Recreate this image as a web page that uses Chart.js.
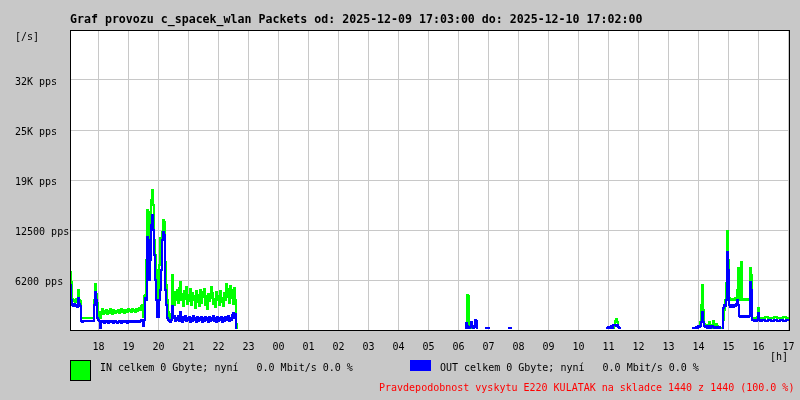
<!DOCTYPE html>
<html>
<head>
<meta charset="utf-8">
<script src="https://cdn.jsdelivr.net/npm/chart.js@4/dist/chart.umd.min.js"></script>
<style>
  html, body { margin: 0; padding: 0; background: #c8c8c8; }
  canvas { display: block; }
</style>
</head>
<body>
<canvas id="graf" width="800" height="400"></canvas>
<script>
// sample time, minutes since 2025-12-09 17:03
var sampleMin = [
    0,   2,   4,   6,   8,  10,  12,  14,  16,  18,
   20,  22,  24,  26,  28,  30,  32,  34,  36,  38,
   40,  42,  44,  46,  48,  50,  52,  54,  56,  58,
   60,  62,  64,  66,  68,  70,  72,  74,  76,  78,
   80,  82,  84,  86,  88,  90,  92,  94,  96,  98,
  100, 102, 104, 106, 108, 110, 112, 114, 116, 118,
  120, 122, 124, 126, 128, 130, 132, 134, 136, 138,
  140, 142, 144, 146, 148, 150, 152, 154, 156, 158,
  160, 162, 164, 166, 168, 170, 172, 174, 176, 178,
  180, 182, 184, 186, 188, 190, 192, 194, 196, 198,
  200, 202, 204, 206, 208, 210, 212, 214, 216, 218,
  220, 222, 224, 226, 228, 230, 232, 234, 236, 238,
  240, 242, 244, 246, 248, 250, 252, 254, 256, 258,
  260, 262, 264, 266, 268, 270, 272, 274, 276, 278,
  280, 282, 284, 286, 288, 290, 292, 294, 296, 298,
  300, 302, 304, 306, 308, 310, 312, 314, 316, 318,
  320, 322, 324, 326, 328, 330, 332, 334,
  336, 790, 792, 794, 796, 798, 800, 802, 804, 806, 808, 810, 812, 814,
  830, 832, 836, 838, 876, 878, 882,
  1072, 1074, 1076, 1078, 1080, 1082, 1084, 1086, 1088, 1090, 1092, 1094, 1096, 1098, 1100,
  1244, 1246, 1248, 1250, 1252, 1254, 1256, 1258, 1260, 1262,
  1264, 1266, 1268, 1270, 1272, 1274, 1276, 1278, 1280, 1282,
  1284, 1286, 1288, 1290, 1292, 1294, 1296, 1298, 1300, 1302,
  1304, 1306, 1308, 1310, 1312, 1314, 1316, 1318, 1320, 1322,
  1324, 1326, 1328, 1330, 1332, 1334, 1336, 1338, 1340, 1342,
  1344, 1346, 1348, 1350, 1352, 1354, 1356, 1358, 1360, 1362,
  1364, 1366, 1368, 1370, 1372, 1374, 1376,
  1378, 1380, 1384, 1390, 1396, 1402, 1408, 1414, 1420, 1426, 1432, 1438
];

// IN packets per second
var inPps = [
  7250, 6000, 3875, 3625, 3750, 3500, 3875, 3625, 5000, 3750,
  3625, 1500, 1500, 1500, 1500, 1500, 1500, 1500, 1500, 1500,
  1500, 1500, 1500, 1500, 3750, 5750, 4500, 3375, 1750, 2250,
  1500, 2250, 2625, 2000, 2375, 2125, 2500, 2000, 2375, 2125,
  2625, 2250, 2000, 2500, 2250, 2125, 2375, 2250, 2500, 2125,
  2375, 2625, 2250, 2500, 2125, 2375, 2500, 2250, 2625, 2375,
  2500, 2250, 2625, 2375, 2500, 2250, 2625, 2375, 2500, 2750,
  2500, 3000, 3125, 1625, 4250, 4375, 8750, 15000, 14750, 8375,
  10000, 16250, 17500, 15625, 11250, 9375, 7500, 1625, 3750, 8125,
  11500, 10625, 12250, 13750, 13500, 8500, 5625, 3750, 2250, 1750,
  1500, 2000, 6875, 4375, 3125, 4750, 3750, 5000, 3375, 5250,
  6000, 3750, 4500, 3000, 4875, 3875, 5375, 3250, 4375, 3625,
  5125, 3125, 4625, 3750, 4250, 2750, 4875, 3500, 4375, 3000,
  5000, 3375, 4125, 4750, 5125, 3125, 4250, 2625, 4500, 3625,
  4000, 5375, 4625, 3250, 3875, 2875, 4750, 3750, 4250, 3125,
  4875, 3500, 4000, 3000, 4625, 3750, 5750, 4125, 5125, 3375,
  5500, 4000, 5000, 3250, 5250, 3750, 750, 0,
  0, 0, 0, 4375, 4250, 250, 125, 125, 0, 0, 0, 0, 0, 0,
  0, 0, 0, 0, 0, 0, 0,
  0, 0, 0, 250, 375, 0, 0, 0, 500, 1125, 1375, 1000, 375, 0, 0,
  0, 125, 0, 0, 125, 250, 375, 500, 1000, 3125,
  5625, 2500, 750, 500, 375, 625, 375, 1000, 375, 625,
  250, 1125, 500, 375, 750, 500, 250, 375, 250, 125,
  125, 1250, 2500, 3750, 5875, 12375, 8750, 4000, 3750, 3750,
  3875, 3750, 3750, 4000, 3750, 5000, 7750, 3750, 4000, 8500,
  3750, 3750, 3875, 3750, 3750, 3875, 3750, 3750, 7750, 6875,
  1500, 1500, 1500, 1500, 1500, 1625, 2750,
  1500, 1500, 1500, 1625, 1500, 1500, 1625, 1500, 1500, 1625, 1500, 1500
];

// OUT packets per second
var outPps = [
  5625, 3750, 3125, 3000, 3250, 3000, 3125, 2875, 4000, 3250,
  3000, 1125, 1000, 1125, 1125, 1125, 1125, 1125, 1125, 1125,
  1125, 1125, 1125, 1125, 3125, 4750, 3750, 1500, 1250, 1125,
  0, 1125, 1000, 1125, 875, 1000, 1125, 1000, 875, 1125,
  1000, 1000, 1125, 875, 1000, 1125, 1000, 875, 1000, 1125,
  1000, 875, 1125, 1000, 1000, 1125, 1000, 875, 1125, 1000,
  1125, 1000, 1125, 1000, 1125, 1000, 1125, 1000, 1125, 1000,
  1125, 1250, 1250, 500, 1250, 4000, 3750, 11625, 11250, 6250,
  8750, 13125, 14375, 12500, 9375, 6250, 3750, 1625, 1625, 3750,
  5000, 7500, 11250, 12250, 11875, 5000, 3125, 1500, 1250, 1125,
  1000, 1250, 3000, 1500, 1750, 1125, 1500, 1250, 1750, 1125,
  2250, 1500, 1000, 1625, 1250, 1750, 1125, 1500, 1250, 1625,
  1000, 1500, 1125, 1750, 1250, 1500, 1000, 1625, 1125, 1500,
  1250, 1625, 1000, 1500, 1125, 1625, 1250, 1500, 1000, 1625,
  1125, 1500, 1250, 1750, 1125, 1500, 1000, 1625, 1125, 1500,
  1250, 1625, 1000, 1500, 1125, 1625, 1250, 1500, 1750, 1125,
  1500, 1250, 1875, 2125, 1500, 2000, 0, 0,
  0, 0, 875, 500, 250, 250, 375, 1000, 500, 250, 375, 1250, 1125, 0,
  0, 250, 250, 0, 0, 250, 0,
  0, 250, 375, 250, 125, 500, 250, 625, 625, 625, 500, 625, 375, 250, 0,
  0, 250, 125, 250, 375, 250, 500, 375, 500, 1000,
  2250, 1000, 500, 375, 500, 250, 375, 500, 250, 375,
  500, 375, 250, 375, 250, 375, 250, 375, 0, 0,
  0, 2750, 3125, 3000, 3750, 9750, 7500, 3125, 2875, 3000,
  3125, 2875, 3125, 3000, 3250, 3750, 3125, 1750, 1625, 1750,
  1625, 1750, 1625, 1750, 1625, 1750, 1625, 1750, 6000, 5000,
  1250, 1250, 1125, 1250, 1125, 1250, 2125,
  1250, 1125, 1250, 1125, 1250, 1125, 1250, 1125, 1250, 1125, 1250, 1125
];

// hour ticks (minutes since start) and their labels
var hourTicks = [57, 117, 177, 237, 297, 357, 417, 477, 537, 597, 657, 717,
                 777, 837, 897, 957, 1017, 1077, 1137, 1197, 1257, 1317, 1377, 1437];
var hourLabels = ['18', '19', '20', '21', '22', '23', '00', '01', '02', '03', '04', '05',
                  '06', '07', '08', '09', '10', '11', '12', '13', '14', '15', '16', '17'];

var yTickValues = [6250, 12500, 18750, 25000, 31250];
var yTickLabels = ['6200 pps', '12500 pps', '19K pps', '25K pps', '32K pps'];

var titleText = 'Graf provozu c_spacek_wlan Packets od: 2025-12-09 17:03:00 do: 2025-12-10 17:02:00';
var inLegend = 'IN celkem 0 Gbyte; nyní   0.0 Mbit/s 0.0 %';
var outLegend = 'OUT celkem 0 Gbyte; nyní   0.0 Mbit/s 0.0 %';
var noteText = 'Pravdepodobnost vyskytu E220 KULATAK na skladce 1440 z 1440 (100.0 %)';

var bgGray = '#c8c8c8';
var gridGray = '#c8c8c8';
var mono = '"DejaVu Sans Mono", monospace';

function toXY(values) {
    return sampleMin.map(function(m, i) { return { x: m, y: values[i] }; });
}

//Paint grey page and white plot area, then frame and texts on top
var decor = {
    id: 'decor',
    beforeDraw: function(chart) {
        var c = chart.ctx, a = chart.chartArea;
        c.save();
        c.fillStyle = bgGray;
        c.fillRect(0, 0, chart.width, chart.height);
        c.fillStyle = '#ffffff';
        c.fillRect(a.left, a.top, a.right - a.left, a.bottom - a.top);
        c.restore();
    },
    afterDatasetsDraw: function(chart) {
        var c = chart.ctx, a = chart.chartArea;
        c.save();
        c.strokeStyle = '#000000';
        c.lineWidth = 1;
        c.strokeRect(a.left + 0.5, a.top + 0.5, a.right - a.left - 1, a.bottom - a.top);
        c.restore();
    },
    afterDraw: function(chart) {
        var c = chart.ctx;
        c.save();
        c.textBaseline = 'alphabetic';
        c.textAlign = 'left';
        c.fillStyle = '#000000';
        c.font = 'bold 11.6px ' + mono;
        c.fillText(titleText, 70, 23);

        c.font = '10px ' + mono;
        c.fillText('[/s]', 15, 40);
        c.fillText('[h]', 770, 360);

        c.fillStyle = '#00ff00';
        c.fillRect(70, 360, 21, 21);
        c.strokeStyle = '#000000';
        c.lineWidth = 1;
        c.strokeRect(70.5, 360.5, 20, 20);
        c.fillStyle = '#0000ff';
        c.fillRect(410, 360, 21, 11);

        c.fillStyle = '#000000';
        c.fillText(inLegend, 100, 371);
        c.fillText(outLegend, 440, 371);
        c.fillStyle = '#ff0000';
        c.fillText(noteText, 379, 391);
        c.restore();
    }
};

var ctx = document.getElementById('graf').getContext('2d');
var grafChart = new Chart(ctx, {
    type: 'line',
    data: {
        datasets: [{
            label: 'IN',
            data: toXY(inPps),
            borderColor: '#00ff00',
            borderWidth: 2,
            pointRadius: 0,
            stepped: true,
            order: 2,
            clip: { left: 0, top: 0, right: 0, bottom: -1 }
        }, {
            label: 'OUT',
            data: toXY(outPps),
            borderColor: '#0000ff',
            borderWidth: 2,
            pointRadius: 0,
            stepped: true,
            order: 1,
            clip: { left: 0, top: 0, right: 0, bottom: -1 }
        }]
    },
    options: {
        responsive: false,
        animation: false,
        events: [],
        layout: { padding: { left: 15, top: 30, right: 10, bottom: 0 } },
        plugins: { legend: { display: false }, tooltip: { enabled: false } },
        scales: {
            x: {
                type: 'linear',
                min: 0,
                max: 1440,
                afterBuildTicks: function(s) {
                    s.ticks = hourTicks.map(function(v) { return { value: v }; });
                },
                afterFit: function(s) {
                    s.height = 70;
                    s.paddingLeft = 0;
                    s.paddingRight = 0;
                },
                grid: { color: gridGray, lineWidth: 1, drawTicks: false },
                border: { display: false },
                ticks: {
                    autoSkip: false,
                    maxRotation: 0,
                    padding: 11,
                    color: '#000000',
                    font: { family: mono, size: 10 },
                    callback: function(v) {
                        var i = hourTicks.indexOf(v);
                        return i < 0 ? '' : hourLabels[i];
                    }
                }
            },
            y: {
                min: 0,
                max: 37500,
                afterBuildTicks: function(s) {
                    s.ticks = yTickValues.map(function(v) { return { value: v }; });
                },
                afterFit: function(s) {
                    s.width = 55;
                    s.paddingTop = 0;
                    s.paddingBottom = 0;
                },
                grid: { color: gridGray, lineWidth: 1, drawTicks: false },
                border: { display: false },
                ticks: {
                    crossAlign: 'far',
                    labelOffset: 2,
                    color: '#000000',
                    font: { family: mono, size: 10 },
                    callback: function(v) {
                        var i = yTickValues.indexOf(v);
                        return i < 0 ? '' : yTickLabels[i];
                    }
                }
            }
        }
    },
    plugins: [decor]
});
</script>
</body>
</html>
